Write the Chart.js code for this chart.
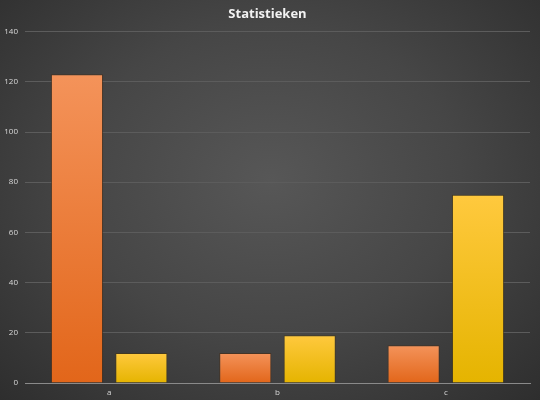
<!DOCTYPE html>
<html>
<head>
<meta charset="utf-8">
<script src="https://cdn.jsdelivr.net/npm/chart.js@4"></script>
<style>
  html, body { margin: 0; padding: 0; }
  body {
    width: 540px; height: 400px; overflow: hidden;
    background: radial-gradient(ellipse at 50% 45%, #575757 0%, #464646 50%, #2e2e2e 100%);
  }
  #wrap { width: 540px; height: 400px; }
</style>
</head>
<body>
<div id="wrap"><canvas id="chart"></canvas></div>
<script>
// data
const categorieen = ['a', 'b', 'c'];
const reeks1 = [123, 12, 15];
const reeks2 = [12, 19, 75];

const yMax = 140;
const yStap = 20;

function verloop(boven, onder, solid) {
    return ctx => {
        const chart = ctx.chart;
        const y = chart.scales && chart.scales.y;
        if (!y || !chart.chartArea || ctx.raw === undefined) return solid;
        const top = y.getPixelForValue(ctx.raw);
        const base = y.getPixelForValue(0);
        if (!isFinite(top) || !isFinite(base) || top === base) return solid;
        const g = chart.ctx.createLinearGradient(0, top, 0, base);
        g.addColorStop(0, boven);
        g.addColorStop(1, onder);
        return g;
    };
}

new Chart(document.getElementById('chart'), {
    type: 'bar',
    data: {
        labels: categorieen,
        datasets: [
            {
                label: 'Reeks1',
                data: reeks1,
                backgroundColor: verloop('#F4935A', '#E2661A', '#ED7D31'),
                borderColor: 'rgba(70,45,25,0.7)',
                borderWidth: 1,
                barPercentage: 0.81,
                categoryPercentage: 0.765
            },
            {
                label: 'Reeks2',
                data: reeks2,
                backgroundColor: verloop('#FFC93E', '#E5B400', '#FFC000'),
                borderColor: 'rgba(70,55,20,0.7)',
                borderWidth: 1,
                barPercentage: 0.81,
                categoryPercentage: 0.765
            }
        ]
    },
    options: {
        responsive: true,
        maintainAspectRatio: false,
        animation: false,
        layout: { padding: { left: 5, right: 10, top: 4, bottom: 0 } },
        plugins: {
            legend: { display: false },
            tooltip: { enabled: false },
            title: {
                display: true,
                text: 'Statistieken',
                color: '#f2f2f2',
                font: { family: 'Open Sans', size: 13, weight: 'bold' },
                padding: { top: 2, bottom: 10 }
            }
        },
        scales: {
            x: {
                grid: { display: false, drawTicks: false },
                border: { color: '#8a8a8a', width: 1 },
                ticks: { color: '#d9d9d9', font: { family: 'Open Sans', size: 8 }, padding: 5 },
                afterFit: s => { s.height = 17; }
            },
            y: {
                min: 0,
                max: yMax,
                ticks: { stepSize: yStap, color: '#d9d9d9', font: { family: 'Open Sans', size: 8 }, padding: 7 },
                grid: { color: '#5c5c5c', drawTicks: false },
                border: { display: false },
                afterFit: s => { s.width = 20; }
            }
        }
    }
});
</script>
</body>
</html>
